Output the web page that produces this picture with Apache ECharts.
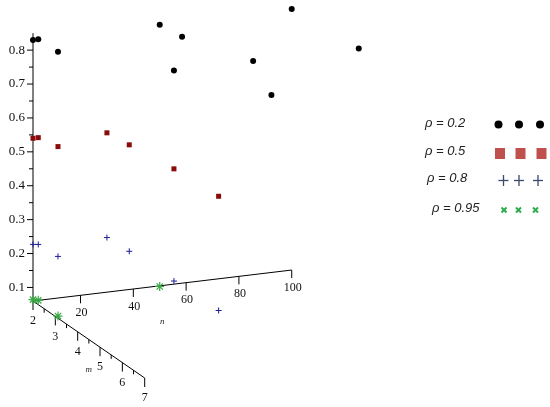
<!DOCTYPE html>
<html>
<head>
<meta charset="utf-8">
<script src="https://cdn.jsdelivr.net/npm/echarts@6/dist/echarts.min.js"></script>
<style>
  html, body { margin: 0; padding: 0; background: #fff; }
  #chart { width: 550px; height: 407px; }
</style>
</head>
<body>
<div id="chart"></div>
<script>
// points as (n, m, value) for each rho
const rho02N = [2, 4, 3, 50, 30, 50, 60, 50, 100, 100];
const rho02M = [2, 2, 3, 2, 5, 3, 5, 7, 2, 5];
const rho02Z = [0.83, 0.83, 0.84, 0.83, 0.85, 0.84, 0.85, 0.85, 0.83, 0.85];
const rho05N = [2, 4, 3, 30, 30, 30, 30];
const rho05M = [2, 2, 3, 2, 3, 5, 7];
const rho05Z = [0.54, 0.54, 0.56, 0.53, 0.54, 0.56, 0.57];
const rho08N = [2, 4, 3, 30, 30, 30, 30];
const rho08M = [2, 2, 3, 2, 3, 5, 7];
const rho08Z = [0.227, 0.225, 0.236, 0.221, 0.226, 0.229, 0.233];
const rho095N = [2, 4, 3, 50];
const rho095M = [2, 2, 3, 2];
const rho095Z = [0.064, 0.06, 0.06, 0.058];

const legendLabels = ['ρ = 0.2', 'ρ = 0.5', 'ρ = 0.8', 'ρ = 0.95'];
const zTicks = [0.1, 0.2, 0.3, 0.4, 0.5, 0.6, 0.7, 0.8];
const zMinorTicks = [0.15, 0.25, 0.35, 0.45, 0.55, 0.65, 0.75];
const nTicks = [20, 40, 60, 80, 100];
const mTicks = [2, 3, 4, 5, 6, 7];
const mMinorTicks = [2.5, 3.5, 4.5, 5.5, 6.5];
const nRange = [2, 100];
const mRange = [2, 7];
const zRange = [0.06, 0.85];

// fixed oblique view, in pixels per unit
const view = { ox: 33, oy: 301, nx: 2.64, ny: -0.316, mx: 22.34, my: 15.4, zy: -339 };

function proj(n, m, z) {
  return [
    view.ox + (n - nRange[0]) * view.nx + (m - mRange[0]) * view.mx,
    view.oy + (n - nRange[0]) * view.ny + (m - mRange[0]) * view.my + (z - zRange[0]) * view.zy
  ];
}

const pts = (N, M, Z) => N.map((n, i) => proj(n, M[i], Z[i]));

const serif = 'Liberation Serif, DejaVu Serif, serif';
const legendFont = 'italic 13px Liberation Sans, sans-serif';

function tickSeries(name, values, point, tick, label) {
  return {
    name: name,
    type: 'custom',
    silent: true,
    data: values.map(point),
    renderItem: (params, api) => {
      const p = api.coord([api.value(0), api.value(1)]);
      const children = [{
        type: 'line',
        shape: { x1: p[0], y1: p[1], x2: p[0] + tick[0], y2: p[1] + tick[1] },
        style: { stroke: '#000', lineWidth: 1 }
      }];
      if (label) {
        children.push({
          type: 'text',
          style: {
            x: p[0] + label.dx, y: p[1] + label.dy,
            text: label.fmt(values[params.dataIndex]),
            textAlign: label.align, textVerticalAlign: 'middle',
            fontFamily: serif, fontSize: label.size, fill: '#111'
          }
        });
      }
      return { type: 'group', children: children };
    }
  };
}

const axisSegments = [
  proj(nRange[0], mRange[0], zRange[0]).concat(proj(nRange[1], mRange[0], zRange[0])),
  proj(nRange[0], mRange[0], zRange[0]).concat(proj(nRange[0], mRange[1], zRange[0])),
  proj(nRange[0], mRange[0], zRange[0]).concat(proj(nRange[0], mRange[0], zRange[1]))
];

const nTitle = proj((nRange[0] + nRange[1]) / 2, mRange[0], zRange[0]);
const mTitle = proj(nRange[0], (mRange[0] + mRange[1]) / 2, zRange[0]);

function plus(cx, cy) {
  const s = { stroke: '#3b4a6b', lineWidth: 1.3 };
  return [
    { type: 'polyline', shape: { points: [[cx - 5, cy], [cx + 5, cy]] }, style: s },
    { type: 'polyline', shape: { points: [[cx, cy - 5.5], [cx, cy + 5.5]] }, style: s }
  ];
}
function cross(cx, cy) {
  const s = { stroke: '#2eaa4f', lineWidth: 2 };
  return [
    { type: 'polyline', shape: { points: [[cx - 2.5, cy - 2.5], [cx + 2.5, cy + 2.5]] }, style: s },
    { type: 'polyline', shape: { points: [[cx - 2.5, cy + 2.5], [cx + 2.5, cy - 2.5]] }, style: s }
  ];
}

const chart = echarts.init(document.getElementById('chart'));
chart.setOption({
  animation: false,
  backgroundColor: '#fff',
  grid: { left: 0, top: 0, right: 0, bottom: 0 },
  xAxis: { type: 'value', min: 0, max: 550, show: false },
  yAxis: { type: 'value', min: 0, max: 407, inverse: true, show: false },
  series: [
    {
      name: 'axes',
      type: 'custom',
      silent: true,
      data: axisSegments,
      renderItem: (params, api) => {
        const a = api.coord([api.value(0), api.value(1)]);
        const b = api.coord([api.value(2), api.value(3)]);
        return {
          type: 'line',
          shape: { x1: a[0], y1: a[1], x2: b[0], y2: b[1] },
          style: { stroke: '#000', lineWidth: 1 }
        };
      }
    },
    tickSeries('zTicks', zTicks, z => proj(nRange[0], mRange[0], z), [-6, 0],
      { dx: -8, dy: 0, align: 'right', size: 13, fmt: v => v.toFixed(1) }),
    tickSeries('zMinor', zMinorTicks, z => proj(nRange[0], mRange[0], z), [-4, 0]),
    tickSeries('nTicks', nTicks, n => proj(n, mRange[0], zRange[0]), [0, 8],
      { dx: 1, dy: 17.5, align: 'center', size: 12, fmt: v => String(v) }),
    tickSeries('mTicks', mTicks, m => proj(nRange[0], m, zRange[0]), [0, 9],
      { dx: 0, dy: 20, align: 'center', size: 12, fmt: v => String(v) }),
    tickSeries('mMinor', mMinorTicks, m => proj(nRange[0], m, zRange[0]), [0, 4]),
    {
      name: 'titles',
      type: 'custom',
      silent: true,
      data: [nTitle, mTitle],
      renderItem: (params, api) => {
        const p = api.coord([api.value(0), api.value(1)]);
        const off = params.dataIndex === 0 ? [0, 36] : [0, 30];
        return {
          type: 'text',
          style: {
            x: p[0] + off[0], y: p[1] + off[1],
            text: params.dataIndex === 0 ? 'n' : 'm',
            textAlign: 'center', textVerticalAlign: 'middle',
            fontFamily: serif, fontStyle: 'italic', fontSize: 9, fill: '#222'
          }
        };
      }
    },
    {
      name: legendLabels[0],
      type: 'scatter',
      data: pts(rho02N, rho02M, rho02Z),
      symbol: 'circle',
      symbolSize: 6,
      itemStyle: { color: '#000', opacity: 1 }
    },
    {
      name: legendLabels[1],
      type: 'scatter',
      data: pts(rho05N, rho05M, rho05Z),
      symbol: 'rect',
      symbolSize: 5,
      itemStyle: { color: '#8b0a0a', opacity: 1 }
    },
    {
      name: legendLabels[2],
      type: 'scatter',
      data: pts(rho08N, rho08M, rho08Z),
      symbol: 'path://M0,5L10,5M5,0L5,10',
      symbolSize: 6,
      itemStyle: { color: 'none', borderColor: '#1c1c9a', borderWidth: 1, opacity: 1 }
    },
    {
      name: legendLabels[3],
      type: 'scatter',
      data: pts(rho095N, rho095M, rho095Z),
      symbol: 'path://M0,5L10,5M5,0L5,10M1.5,1.5L8.5,8.5M1.5,8.5L8.5,1.5',
      symbolSize: 9,
      itemStyle: { color: 'none', borderColor: '#3aa845', borderWidth: 1.2, opacity: 1 }
    }
  ],
  graphic: [
    { type: 'text', left: 425, top: 117, style: { text: legendLabels[0], font: legendFont, fill: '#222' } },
    { type: 'text', left: 425, top: 145, style: { text: legendLabels[1], font: legendFont, fill: '#222' } },
    { type: 'text', left: 427, top: 172, style: { text: legendLabels[2], font: legendFont, fill: '#222' } },
    { type: 'text', left: 432, top: 202, style: { text: legendLabels[3], font: legendFont, fill: '#222' } },
    { type: 'circle', shape: { cx: 498.5, cy: 124.5, r: 4 }, style: { fill: '#000' } },
    { type: 'circle', shape: { cx: 519, cy: 124.5, r: 4 }, style: { fill: '#000' } },
    { type: 'circle', shape: { cx: 540, cy: 124.5, r: 4 }, style: { fill: '#000' } },
    { type: 'rect', shape: { x: 495, y: 148, width: 10, height: 11 }, style: { fill: '#c0504d' } },
    { type: 'rect', shape: { x: 515.5, y: 148, width: 10, height: 11 }, style: { fill: '#c0504d' } },
    { type: 'rect', shape: { x: 536.5, y: 148, width: 10, height: 11 }, style: { fill: '#c0504d' } }
  ].concat(plus(503.5, 180.5), plus(519, 180.5), plus(538, 180.5),
           cross(504, 210), cross(518.5, 210), cross(535.5, 210))
});
</script>
</body>
</html>
